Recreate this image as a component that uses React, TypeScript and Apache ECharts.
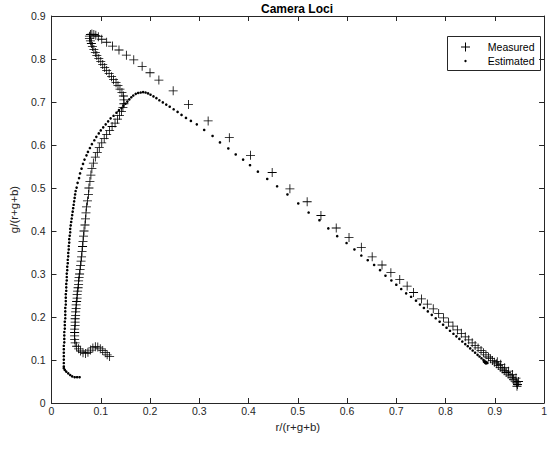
import React, { useEffect, useRef } from "react";
import * as echarts from "echarts";

const xTickLabels = ["0", "0.1", "0.2", "0.3", "0.4", "0.5", "0.6", "0.7", "0.8", "0.9", "1"];
const yTickLabels = ["0", "0.1", "0.2", "0.3", "0.4", "0.5", "0.6", "0.7", "0.8", "0.9"];

// Measured locus: [r/(r+g+b), g/(r+g+b)]
const measuredHook = [
  [0.118, 0.108], [0.113, 0.112], [0.109, 0.117], [0.104, 0.122], [0.099, 0.126], [0.094, 0.130], [0.089, 0.131],
  [0.084, 0.128], [0.079, 0.123], [0.074, 0.118], [0.069, 0.115], [0.064, 0.117], [0.059, 0.121], [0.055, 0.126],
  [0.051, 0.132], [0.048, 0.140], [0.047, 0.148],
];
const measuredRise = [
  [0.047, 0.156], [0.047, 0.164], [0.047, 0.172], [0.048, 0.180], [0.048, 0.188], [0.048, 0.196], [0.049, 0.204],
  [0.049, 0.212], [0.050, 0.220], [0.050, 0.228], [0.051, 0.236], [0.052, 0.244], [0.052, 0.252], [0.053, 0.260],
  [0.054, 0.268], [0.055, 0.276], [0.055, 0.284], [0.056, 0.292], [0.057, 0.300], [0.058, 0.310], [0.059, 0.320],
  [0.060, 0.330], [0.061, 0.340], [0.062, 0.352], [0.063, 0.364], [0.064, 0.376], [0.065, 0.388], [0.066, 0.400],
  [0.068, 0.414], [0.069, 0.428], [0.070, 0.442], [0.071, 0.456], [0.073, 0.470], [0.075, 0.485], [0.076, 0.500],
  [0.078, 0.515], [0.080, 0.530], [0.082, 0.545], [0.085, 0.558], [0.089, 0.572], [0.093, 0.583], [0.097, 0.594],
  [0.102, 0.605], [0.107, 0.615], [0.112, 0.624], [0.118, 0.634], [0.123, 0.643], [0.129, 0.651], [0.134, 0.660],
  [0.138, 0.669], [0.142, 0.678], [0.145, 0.687], [0.147, 0.696], [0.147, 0.705], [0.146, 0.714], [0.143, 0.722],
  [0.139, 0.730], [0.135, 0.738], [0.131, 0.745], [0.126, 0.752], [0.122, 0.759], [0.117, 0.766], [0.112, 0.773],
  [0.108, 0.780], [0.104, 0.787], [0.100, 0.794], [0.096, 0.801], [0.092, 0.808], [0.089, 0.815], [0.086, 0.822],
  [0.083, 0.829], [0.081, 0.836], [0.079, 0.842], [0.077, 0.848], [0.077, 0.853], [0.079, 0.857], [0.082, 0.858],
  [0.086, 0.857], [0.090, 0.855],
];
const measuredDiagonal = [
  [0.095, 0.852], [0.102, 0.846], [0.112, 0.839], [0.124, 0.830], [0.137, 0.821], [0.152, 0.809], [0.167, 0.798],
  [0.184, 0.783], [0.200, 0.768], [0.218, 0.751], [0.247, 0.726], [0.278, 0.694], [0.318, 0.656], [0.361, 0.617],
  [0.404, 0.576], [0.448, 0.536], [0.484, 0.498], [0.519, 0.468], [0.547, 0.436], [0.578, 0.407], [0.604, 0.385],
  [0.629, 0.362], [0.651, 0.340], [0.671, 0.321], [0.689, 0.303], [0.707, 0.287], [0.722, 0.272], [0.735, 0.257],
  [0.751, 0.242], [0.763, 0.230], [0.775, 0.219], [0.786, 0.208], [0.796, 0.198], [0.806, 0.188], [0.815, 0.179],
  [0.824, 0.170], [0.832, 0.162], [0.840, 0.154], [0.847, 0.147], [0.854, 0.140], [0.860, 0.134], [0.866, 0.128],
  [0.872, 0.122], [0.877, 0.117], [0.882, 0.112], [0.887, 0.107], [0.891, 0.103], [0.895, 0.099], [0.899, 0.095],
  [0.903, 0.091], [0.907, 0.087], [0.911, 0.083], [0.915, 0.079], [0.919, 0.075], [0.923, 0.071], [0.927, 0.067],
  [0.931, 0.063], [0.935, 0.059], [0.938, 0.055], [0.941, 0.051], [0.944, 0.047], [0.946, 0.043], [0.945, 0.039],
  [0.905, 0.096], [0.912, 0.090], [0.920, 0.082], [0.928, 0.074], [0.936, 0.066], [0.943, 0.058], [0.948, 0.050],
];

// Estimated locus
const estimatedFoot = [
  [0.057, 0.060], [0.052, 0.060], [0.047, 0.060], [0.042, 0.062], [0.038, 0.065], [0.034, 0.069], [0.030, 0.073],
  [0.027, 0.077], [0.025, 0.081],
];
const estimatedRise = [
  [0.025, 0.085], [0.025, 0.093], [0.025, 0.101], [0.025, 0.109], [0.025, 0.117], [0.025, 0.125], [0.025, 0.133],
  [0.026, 0.141], [0.026, 0.149], [0.026, 0.157], [0.026, 0.165], [0.027, 0.173], [0.027, 0.181], [0.027, 0.189],
  [0.028, 0.197], [0.028, 0.205], [0.028, 0.213], [0.028, 0.221], [0.029, 0.229], [0.029, 0.237], [0.029, 0.245],
  [0.029, 0.253], [0.030, 0.261], [0.030, 0.269], [0.030, 0.277], [0.031, 0.285], [0.031, 0.293], [0.031, 0.301],
  [0.032, 0.309], [0.032, 0.317], [0.033, 0.325], [0.033, 0.333], [0.034, 0.341], [0.034, 0.349], [0.035, 0.357],
  [0.035, 0.365], [0.036, 0.373], [0.036, 0.381], [0.037, 0.389], [0.038, 0.397], [0.038, 0.405], [0.039, 0.413],
  [0.040, 0.421], [0.041, 0.429], [0.042, 0.437], [0.043, 0.445], [0.044, 0.453], [0.045, 0.461], [0.046, 0.469],
  [0.047, 0.477], [0.048, 0.485], [0.049, 0.493], [0.051, 0.501],
  [0.053, 0.512], [0.056, 0.523], [0.058, 0.534], [0.061, 0.545], [0.064, 0.556], [0.067, 0.566], [0.071, 0.576],
  [0.074, 0.584], [0.078, 0.593], [0.082, 0.602], [0.087, 0.611], [0.091, 0.619], [0.096, 0.627], [0.100, 0.634],
  [0.105, 0.641], [0.110, 0.648], [0.115, 0.655], [0.120, 0.662], [0.126, 0.668], [0.132, 0.675], [0.137, 0.681],
  [0.142, 0.686], [0.146, 0.691], [0.150, 0.696], [0.154, 0.701], [0.158, 0.706], [0.162, 0.711], [0.166, 0.715],
  [0.171, 0.719], [0.176, 0.721], [0.181, 0.722], [0.186, 0.723], [0.191, 0.722], [0.196, 0.720],
];
const estimatedDiagonal = [
  [0.201, 0.717], [0.207, 0.713], [0.213, 0.709], [0.219, 0.704], [0.226, 0.699], [0.233, 0.694], [0.240, 0.689],
  [0.248, 0.683], [0.256, 0.677], [0.264, 0.670], [0.273, 0.663], [0.283, 0.656], [0.295, 0.648], [0.310, 0.635],
  [0.327, 0.621], [0.342, 0.606], [0.359, 0.592], [0.374, 0.578], [0.389, 0.566], [0.403, 0.553], [0.419, 0.538],
  [0.438, 0.521], [0.458, 0.504], [0.479, 0.485], [0.501, 0.464], [0.522, 0.443], [0.544, 0.425], [0.562, 0.406],
  [0.580, 0.388], [0.599, 0.372], [0.615, 0.357], [0.629, 0.343], [0.642, 0.332], [0.655, 0.321], [0.667, 0.309],
  [0.678, 0.296], [0.690, 0.285], [0.700, 0.275], [0.710, 0.265], [0.720, 0.255], [0.730, 0.247], [0.740, 0.238],
  [0.748, 0.229], [0.756, 0.221], [0.764, 0.213], [0.772, 0.205], [0.780, 0.197], [0.788, 0.189], [0.795, 0.182],
  [0.802, 0.175], [0.809, 0.168], [0.816, 0.161], [0.822, 0.155], [0.828, 0.149], [0.834, 0.143], [0.840, 0.137],
  [0.845, 0.132], [0.850, 0.127], [0.855, 0.122], [0.860, 0.117], [0.865, 0.112], [0.869, 0.108], [0.873, 0.104],
  [0.877, 0.100], [0.880, 0.097], [0.883, 0.095], [0.885, 0.093], [0.882, 0.092], [0.880, 0.094], [0.878, 0.096],
];

const measured = [...measuredHook, ...measuredRise, ...measuredDiagonal];
const estimated = [...estimatedFoot, ...estimatedRise, ...estimatedDiagonal];

const PLUS = "path://M0,4.55H10V5.45H0Z M4.55,0H5.45V10H4.55Z";
const FONT = "'Liberation Sans', Arial, Helvetica, sans-serif";
const AX = "#262626";

export default function App() {
  const ref = useRef<HTMLDivElement>(null);
  useEffect(() => {
    if (!ref.current) return;
    const chart = echarts.init(ref.current, undefined, { renderer: "svg" });
    const common = {
      type: "value" as const,
      axisLine: { show: true, onZero: false, lineStyle: { color: AX, width: 1 } },
      axisTick: { show: true, inside: true, length: 5, lineStyle: { color: AX, width: 1 } },
      splitLine: { show: false },
    };
    chart.setOption({
      animation: false,
      backgroundColor: "#ffffff",
      grid: { left: 45, right: 2, top: 16, bottom: 58, containLabel: false },
      graphic: [
        {
          type: "text",
          x: 297,
          y: 9,
          style: {
            text: "Camera Loci",
            align: "center",
            verticalAlign: "middle",
            font: `bold 12px ${FONT}`,
            fill: "#000",
          },
        },
        {
          type: "group",
          left: 447,
          top: 36,
          children: [
            {
              type: "rect",
              shape: { x: 0, y: 0, width: 93, height: 34 },
              style: { fill: "#fff", stroke: AX, lineWidth: 1 },
            },
            { type: "line", shape: { x1: 13.5, y1: 10.5, x2: 22.5, y2: 10.5 }, style: { stroke: "#000", lineWidth: 1 } },
            { type: "line", shape: { x1: 18, y1: 6, x2: 18, y2: 15 }, style: { stroke: "#000", lineWidth: 1 } },
            { type: "circle", shape: { cx: 18, cy: 24.5, r: 1.2 }, style: { fill: "#000" } },
            {
              type: "text",
              x: 87,
              y: 10.5,
              style: {
                text: "Measured",
                align: "right",
                verticalAlign: "middle",
                font: `10.5px ${FONT}`,
                fill: "#000",
              },
            },
            {
              type: "text",
              x: 87,
              y: 24.5,
              style: {
                text: "Estimated",
                align: "right",
                verticalAlign: "middle",
                font: `10.5px ${FONT}`,
                fill: "#000",
              },
            },
          ],
        },
      ],
      xAxis: [
        {
          ...common,
          min: 0,
          max: 1,
          interval: 0.1,
          position: "bottom",
          axisLabel: {
            margin: 2,
            color: AX,
            fontFamily: FONT,
            fontSize: 10.5,
            formatter: (v: number) => xTickLabels[Math.round(v * 10)],
          },
          name: "r/(r+g+b)",
          nameLocation: "middle",
          nameGap: 16,
          nameTextStyle: { fontFamily: FONT, fontSize: 11.5, color: AX },
        },
        {
          ...common,
          min: 0,
          max: 1,
          interval: 0.1,
          position: "top",
          axisLabel: { show: false },
        },
      ],
      yAxis: [
        {
          ...common,
          min: 0,
          max: 0.9,
          interval: 0.1,
          position: "left",
          axisLabel: {
            margin: 6,
            color: AX,
            fontFamily: FONT,
            fontSize: 10.5,
            formatter: (v: number) => yTickLabels[Math.round(v * 10)],
          },
          name: "g/(r+g+b)",
          nameLocation: "middle",
          nameGap: 27,
          nameTextStyle: { fontFamily: FONT, fontSize: 11.5, color: AX },
        },
        {
          ...common,
          min: 0,
          max: 0.9,
          interval: 0.1,
          position: "right",
          axisLabel: { show: false },
        },
      ],
      series: [
        {
          name: "Measured",
          type: "scatter",
          symbol: PLUS,
          symbolSize: 9,
          itemStyle: { color: "#000", opacity: 1 },
          data: measured,
        },
        {
          name: "Estimated",
          type: "scatter",
          symbol: "circle",
          symbolSize: 2.6,
          itemStyle: { color: "#000", opacity: 1 },
          data: estimated,
        },
      ],
    });
    return () => chart.dispose();
  }, []);
  return (
    <div
      ref={ref}
      style={{ position: "absolute", left: 0, top: 0, width: 550, height: 461, margin: 0 }}
    />
  );
}
